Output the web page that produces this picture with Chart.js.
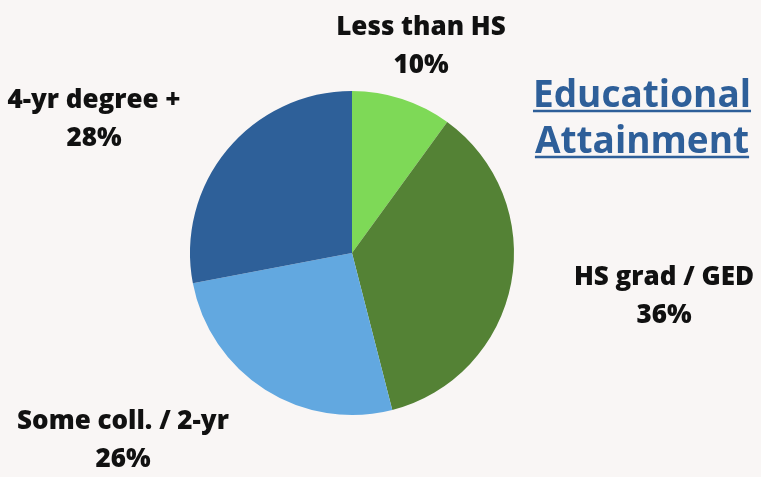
<!DOCTYPE html>
<html>
<head>
<meta charset="utf-8">
<script src="https://cdn.jsdelivr.net/npm/chart.js@4"></script>
<style>
  html, body { margin: 0; padding: 0; background: #f9f6f5; }
  #wrap { width: 761px; height: 477px; }
</style>
</head>
<body>
<div id="wrap"><canvas id="grafico"></canvas></div>
<script>
const categorias = ["Less than HS", "HS grad / GED", "Some coll. / 2-yr", "4-yr degree +"];
const percentuais = [10, 36, 26, 28];
const cores = ["#7ed957", "#548235", "#62a8e0", "#2e6099"];
const titulo = ["Educational", "Attainment"];

// onde cada rótulo fica (centro do texto, linha de base da 1a linha)
const posRotulos = [
  { x: 421, y: 35 },
  { x: 664, y: 285 },
  { x: 123, y: 429 },
  { x: 94, y: 108 }
];

const FONTE = "'Open Sans', 'Noto Sans', sans-serif";

const rotulosPlugin = {
  id: "rotulos",
  afterDraw(chart) {
    const ctx = chart.ctx;
    ctx.save();
    ctx.fillStyle = "#111111";
    ctx.textAlign = "center";
    ctx.textBaseline = "alphabetic";
    ctx.font = "800 26px " + FONTE;
    categorias.forEach((nome, i) => {
      const p = posRotulos[i];
      ctx.fillText(nome, p.x, p.y);
      ctx.fillText(percentuais[i] + "%", p.x, p.y + 38);
    });

    // título sublinhado
    ctx.fillStyle = "#2e5f99";
    ctx.strokeStyle = "#2e5f99";
    ctx.lineWidth = 2.5;
    ctx.font = "bold 37px " + FONTE;
    const cx = 642;
    [107, 153].forEach((y, i) => {
      ctx.fillText(titulo[i], cx, y);
      const w = ctx.measureText(titulo[i]).width;
      ctx.beginPath();
      ctx.moveTo(cx - w / 2, y + 4);
      ctx.lineTo(cx + w / 2, y + 4);
      ctx.stroke();
    });
    ctx.restore();
  }
};

new Chart(document.getElementById("grafico"), {
  type: "pie",
  data: {
    labels: categorias,
    datasets: [{
      data: percentuais,
      backgroundColor: cores,
      borderWidth: 0
    }]
  },
  options: {
    responsive: true,
    maintainAspectRatio: false,
    animation: false,
    layout: { padding: { left: 190, right: 247, top: 91, bottom: 62 } },
    plugins: {
      legend: { display: false },
      tooltip: { enabled: false }
    }
  },
  plugins: [rotulosPlugin]
});
</script>
</body>
</html>
